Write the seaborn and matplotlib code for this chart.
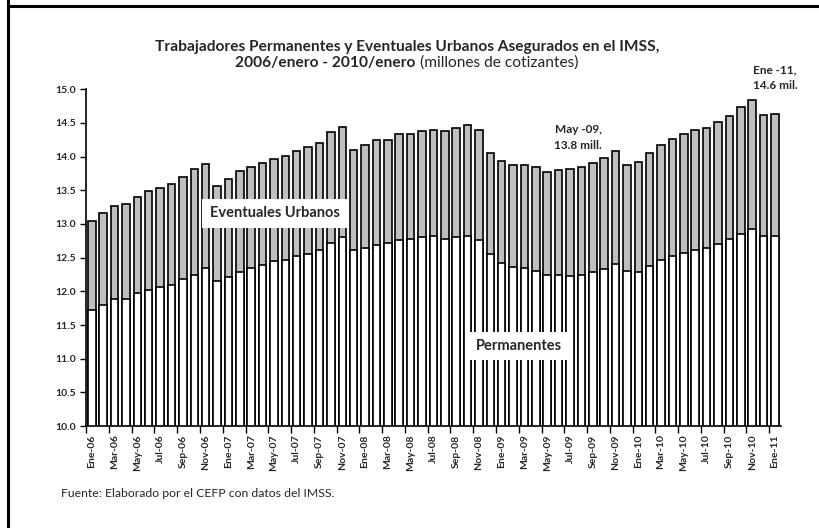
import numpy as np
import pandas as pd
import matplotlib
matplotlib.use("Agg")
import matplotlib.pyplot as plt
from matplotlib.lines import Line2D
import seaborn as sns

# Datos (millones de cotizantes)
meses = ["Ene", "Feb", "Mar", "Abr", "May", "Jun", "Jul", "Ago", "Sep", "Oct", "Nov", "Dic"]
periodos = [f"{m}-{a:02d}" for a in range(6, 11) for m in meses] + ["Ene-11"]

totales = [
    13.05, 13.16, 13.27, 13.29, 13.40, 13.49, 13.54, 13.60, 13.69, 13.81, 13.89, 13.57,
    13.67, 13.78, 13.84, 13.91, 13.97, 14.01, 14.08, 14.14, 14.20, 14.36, 14.44, 14.10,
    14.17, 14.25, 14.25, 14.33, 14.34, 14.38, 14.39, 14.38, 14.43, 14.47, 14.40, 14.06,
    13.93, 13.87, 13.87, 13.85, 13.77, 13.80, 13.81, 13.84, 13.90, 13.98, 14.09, 13.88,
    13.92, 14.05, 14.17, 14.26, 14.33, 14.39, 14.43, 14.51, 14.61, 14.73, 14.84, 14.62,
    14.63,
]
permanentes = [
    11.73, 11.79, 11.88, 11.88, 11.98, 12.02, 12.06, 12.10, 12.18, 12.25, 12.34, 12.16,
    12.22, 12.28, 12.35, 12.39, 12.45, 12.46, 12.53, 12.56, 12.62, 12.72, 12.81, 12.62,
    12.64, 12.69, 12.72, 12.76, 12.78, 12.81, 12.82, 12.77, 12.81, 12.82, 12.76, 12.56,
    12.42, 12.36, 12.34, 12.30, 12.24, 12.24, 12.23, 12.24, 12.29, 12.33, 12.41, 12.30,
    12.29, 12.38, 12.47, 12.52, 12.57, 12.62, 12.65, 12.70, 12.77, 12.85, 12.92, 12.82,
    12.82,
]

df = pd.DataFrame({"periodo": periodos, "total": totales, "permanentes": permanentes})

sns.set_style("white")
plt.rcParams["font.family"] = ["Lato", "DejaVu Sans"]

fig = plt.figure(figsize=(8.2, 5.28), dpi=100)
ax = fig.add_axes([0.105, 0.193, 0.847, 0.638])

sns.barplot(data=df, x="periodo", y="total", color="#BFBFBF", edgecolor="black",
            linewidth=1.2, width=0.66, saturation=1, ax=ax)
sns.barplot(data=df, x="periodo", y="permanentes", color="white", edgecolor="black",
            linewidth=1.2, width=0.66, saturation=1, ax=ax)

ax.set_ylim(10, 15)
ax.set_xlim(-0.5, len(periodos) - 0.5)
ax.set_yticks(np.arange(10, 15.01, 0.5))
ax.set_yticklabels([f"{v:.1f}" for v in np.arange(10, 15.01, 0.5)], fontsize=7.5, fontweight="bold")
pos = np.arange(0, len(periodos), 2)
ax.set_xticks(pos)
ax.set_xticklabels([periodos[i] for i in pos], rotation=90, fontsize=7.5, fontweight="bold")
ax.set_xticks(np.arange(-0.5, len(periodos), 2), minor=True)
ax.tick_params(axis="x", which="major", bottom=True, length=0, pad=6)
ax.tick_params(axis="x", which="minor", bottom=True, length=5, width=1, color="black", direction="out")
ax.tick_params(axis="y", left=True, length=4, width=1, color="black", direction="out", pad=3)
ax.set_xlabel("")
ax.set_ylabel("")
sns.despine(ax=ax)
for s in ["left", "bottom"]:
    ax.spines[s].set_color("black")
    ax.spines[s].set_linewidth(1.2)

# Título
fig.text(0.496, 0.911, "Trabajadores Permanentes y Eventuales Urbanos Asegurados en el IMSS,",
         ha="center", va="center", fontsize=11.2, fontweight="bold")
t2 = fig.text(0.5, 0.881, "2006/enero - 2010/enero", ha="left", va="center",
              fontsize=11.2, fontweight="bold")
t3 = fig.text(0.5, 0.881, " (millones de cotizantes)", ha="left", va="center", fontsize=11.2)
fig.canvas.draw()
r = fig.canvas.get_renderer()
w2 = t2.get_window_extent(r).width / fig.bbox.width
w3 = t3.get_window_extent(r).width / fig.bbox.width
x0 = 0.496 - (w2 + w3) / 2
t2.set_x(x0)
t3.set_x(x0 + w2)

# Etiquetas internas
caja = dict(boxstyle="square,pad=0.5", facecolor="white", edgecolor="none")
fig.text(0.335, 0.596, "Eventuales Urbanos", ha="center", va="center", fontsize=10.5,
         fontweight="bold", bbox=caja)
fig.text(0.633, 0.345, "Permanentes", ha="center", va="center", fontsize=10.5,
         fontweight="bold", bbox=caja)
fig.text(0.705, 0.74, "May -09,\n13.8 mill.", ha="center", va="center", fontsize=8.5,
         fontweight="bold", linespacing=1.6)
fig.text(0.945, 0.853, "Ene -11,\n14.6 mil.", ha="center", va="center", fontsize=8.5,
         fontweight="bold", linespacing=1.6)

fig.text(0.074, 0.066, "Fuente: Elaborado por el CEFP con datos del IMSS.", ha="left",
         va="center", fontsize=8.8)

# Marco
fig.add_artist(Line2D([0.0098, 0.0098], [0, 1], transform=fig.transFigure, color="black", lw=2.2))
fig.add_artist(Line2D([0.0098, 1], [0.9886, 0.9886], transform=fig.transFigure, color="black", lw=2.2))

fig.savefig("out.png", dpi=100)
